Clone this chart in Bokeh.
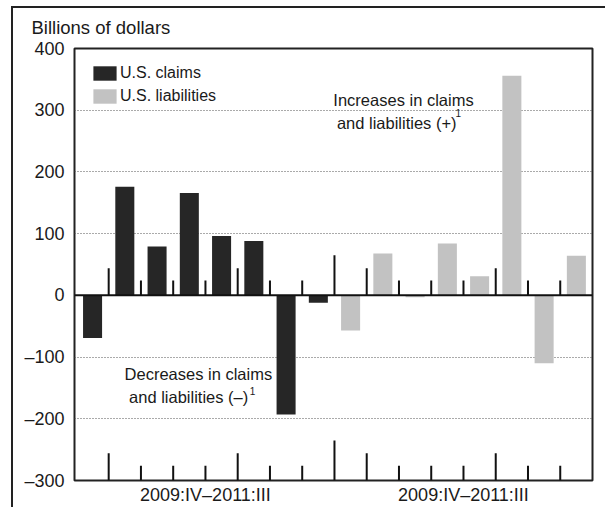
from bokeh.plotting import figure
from bokeh.models import Range1d, FixedTicker, Span, Label, Legend, LegendItem, ColumnDataSource
from bokeh.embed import file_html
from bokeh.resources import INLINE

# ---- data ----
quarters = ["2009:IV", "2010:I", "2010:II", "2010:III", "2010:IV", "2011:I", "2011:II", "2011:III"]
claims = [-69, 176, 79, 166, 96, 88, -193, -12]
liabilities = [-57, 68, -3, 84, 31, 356, -110, 64]
group_label = "2009:IV\u20132011:III"
y_ticks = [-300, -200, -100, 0, 100, 200, 300, 400]
y_tick_labels = ["\u2013300", "\u2013200", "\u2013100", "0", "100", "200", "300", "400"]

FONT = "Liberation Sans"
TXT = "#1a1a1a"
DARK = "#262626"
LIGHT = "#c2c2c2"
W, H = 605, 507

n = len(quarters)
x_claims = list(range(n))
x_liab = [n + i for i in range(n)]
group_centers = [(n - 1) / 2, n + (n - 1) / 2]

p = figure(width=W, height=H, output_backend="svg", toolbar_location=None,
           x_range=Range1d(-0.56, 2 * n - 0.5), y_range=Range1d(y_ticks[0], y_ticks[-1]),
           min_border_left=74, min_border_right=13, min_border_top=48, min_border_bottom=25)
p.xgrid.visible = False
p.outline_line_color = "#222222"
p.outline_line_width = 2
p.background_fill_color = "white"
p.border_fill_color = None
# outer frame lines (left and top) drawn behind the transparent border area
p.styles = {
    "background-color": "white",
    "background-image": "linear-gradient(#222,#222), linear-gradient(#222,#222)",
    "background-size": "2px 100%, 100% 2px",
    "background-position": "11px 6px, 11px 6px",
    "background-repeat": "no-repeat",
}

# title
p.title.text = "Billions of dollars"
p.title.align = "left"
p.title.offset = -43
p.title.text_font = FONT
p.title.text_font_size = "18.5px"
p.title.text_font_style = "normal"
p.title.text_color = TXT
p.title.standoff = 22

# y axis
p.yaxis.ticker = FixedTicker(ticks=y_ticks)
p.yaxis.major_label_overrides = {t: l for t, l in zip(y_ticks, y_tick_labels)}
p.yaxis.axis_line_color = None
p.yaxis.major_tick_line_color = None
p.yaxis.minor_tick_line_color = None
p.yaxis.major_label_text_font = FONT
p.yaxis.major_label_text_font_size = "18px"
p.yaxis.major_label_text_color = TXT
p.yaxis.major_label_standoff = 4

# x axis: group labels
p.xaxis.ticker = FixedTicker(ticks=group_centers)
p.xaxis.major_label_overrides = {c: group_label for c in group_centers}
p.xaxis.axis_line_color = None
p.xaxis.major_tick_line_color = None
p.xaxis.minor_tick_line_color = None
p.xaxis.major_tick_out = 0
p.xaxis.major_tick_in = 0
p.xaxis.minor_tick_out = 0
p.xaxis.minor_tick_in = 0
p.xaxis.major_label_text_font = FONT
p.xaxis.major_label_text_font_size = "18px"
p.xaxis.major_label_text_color = TXT
p.xaxis.major_label_standoff = 4

p.ygrid.ticker = FixedTicker(ticks=[t for t in y_ticks if t not in (0, y_ticks[0], y_ticks[-1])])
p.ygrid.grid_line_color = "#555555"
p.ygrid.grid_line_dash = "1 2"
p.ygrid.grid_line_width = 1

src_c = ColumnDataSource(dict(x=x_claims, top=claims))
src_l = ColumnDataSource(dict(x=x_liab, top=liabilities))
r1 = p.vbar(x="x", top="top", bottom=0, width=0.59, source=src_c, fill_color=DARK, line_color=None)
r2 = p.vbar(x="x", top="top", bottom=0, width=0.59, source=src_l, fill_color=LIGHT, line_color=None)

# zero line
p.add_layout(Span(location=0, dimension="width", line_color="#111111", line_width=2))

# separator ticks at zero line and at bottom
all_q = quarters + quarters
bx, h = [], []
for i in range(2 * n - 1):
    b = i + 0.5
    if i == n - 1:
        hh = 65
    elif all_q[i + 1].endswith(":I"):
        hh = 44
    else:
        hh = 24
    bx.append(b)
    h.append(hh)
for base in (0, y_ticks[0]):
    p.segment(x0=bx, y0=[base] * len(bx), x1=bx, y1=[base + v for v in h],
              line_color="#111111", line_width=2)

# legend
legend = Legend(items=[LegendItem(label="U.S. claims", renderers=[r1]),
                       LegendItem(label="U.S. liabilities", renderers=[r2])],
                location="top_left", margin=16, padding=0, border_line_color=None,
                background_fill_alpha=0, glyph_width=29, glyph_height=18,
                label_text_font=FONT, label_text_font_size="16px", label_text_color=TXT,
                spacing=5, label_standoff=1)
p.add_layout(legend)

def lab(text, x, y, size, align="center", baseline="middle"):
    p.add_layout(Label(text=text, x=x, y=y, text_font=FONT, text_font_size=size,
                       text_color=TXT, text_align=align, text_baseline=baseline))

# annotations
lab("Increases in claims", 9.64, 316, "16.5px")
lab("and liabilities (+)", 9.43, 279, "16.5px")
lab("1", 11.25, 295, "10px", align="left")
lab("Decreases in claims", 3.28, -127, "16.5px")
lab("and liabilities (\u2013)", 2.98, -164, "16.5px")
lab("1", 4.87, -155, "10px", align="left")

open("out.html", "w").write(file_html(p, INLINE))
